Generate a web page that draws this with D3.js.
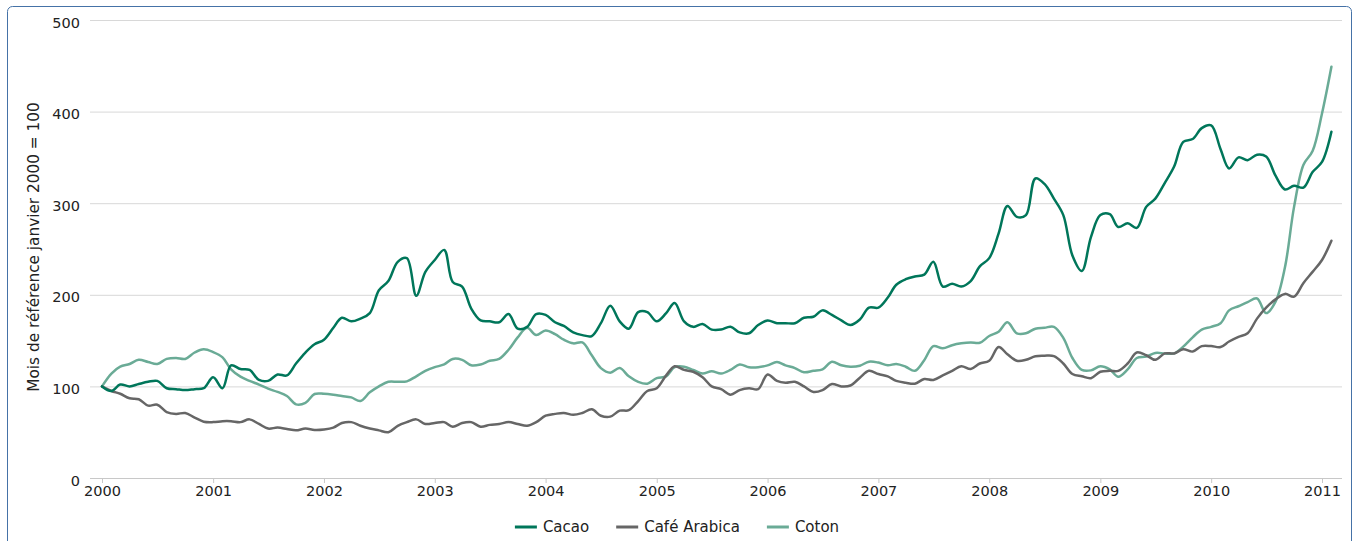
<!DOCTYPE html>
<html><head><meta charset="utf-8">
<script src="https://cdn.jsdelivr.net/npm/d3@7"></script>
<style>
html,body{margin:0;padding:0;background:#fff;}
svg{display:block;font-family:"DejaVu Sans",sans-serif;}
</style></head>
<body>
<svg id="chart" width="1354" height="541"></svg>
<script>
const seriesNames = ["Cacao", "Café Arabica", "Coton"];
const seriesColors = ["#00765A", "#666666", "#6AAB96"];
const startMonth = "2000-01";
const yTicks = [0, 100, 200, 300, 400, 500];
const xTickYears = [2000,2001,2002,2003,2004,2005,2006,2007,2008,2009,2010,2011];
const yTitle = "Mois de référence janvier 2000 = 100";

const cacao = [100,95,102,100,102.6,105,106,98,97,96,97,98,110,98,123,119,118,107,106,113,112,125,137,146,
151,164,175,171,174,180,205,215,236,240,199,225,238,249,214,209,185,172,171,170,179,163,165,179,178,170,
166,159,156,155,169,188,171,163,181,181,171,180,191,171,165,168,162,162,165,159,158,167,172,169,169,169,
175,176,183,178,172,167,173,186,186,197,211,217,220,222,236,209,212,209,215,231,240,267,297,285,287,327,
321,305,287,243,226,263,287,288,274,278,273,296,305,322,340,367,370,382,385,359,338,350,347,353,351,330,
315,319,317,334,345,378];
const cafe = [100,95,92,87,86,79,80,72,70,71,66,61.5,61,62,62,61,64,59,54,55,53.5,52,54,52.5,
53,55,60,61,57,54,52,50,57,61,64,59,60,61,56,60,61,56,58,59,61,59,57,61,68,70,
71,69,71,75,68,67,73.5,74,84,95,98,112,122,118,116,110,100,97,91,96,98,97,113,106,104,105,
100,94,96,102.6,100,101,109.5,117,113.5,111,106,104,103,108,107,112,117,122,119,125,128,143,135,128,129,133,
133.5,133,125,113.5,111,109,116,117,117,125,137,134,129,136,136,140.5,138,144,144,143,149,154,158,174,186,195,
201,198,213,225,238,259];
const coton = [100,114,121.5,124.5,129,126.6,124.5,130,131,130,137,140.5,137.5,131.7,118.6,110.6,106,102,97.5,94,89.5,80.4,82,91.7,
92,91,89.5,88,84,93.5,100,105,105,105.5,111,117,121,124,130,129,123,124,128,130,140,153.5,164,156,161,157,
151,147,148,134,120,115,120,111,105,103,109,111,121,121.5,118,114,116.5,114,118,124,121,121,123,126.6,123,120,
115.4,117,118.6,127,123,121.5,122.6,127,126,123,124.5,121.5,117,128.6,144,141.6,145,147,148,147.6,155,159.7,170,158,158,163,
164,165,153,131,118,117.5,122,118.6,110.6,118.6,131,132.5,136.5,136,136,143.4,153.6,162,165,169,183,187.5,192,196,180,192.5,
230,296,342,357,398,449];
const seriesValues = [cacao, cafe, coton];

const svg = d3.select("#chart");
const W = 1354, H = 541;
const plotLeft = 90, plotRight = 1342, plotTop = 20, plotBottom = 478;

// border
svg.append("rect").attr("x",7.5).attr("y",6.5).attr("width",1344).attr("height",545)
  .attr("rx",5).attr("ry",5).attr("fill","none").attr("stroke","#4572A7").attr("stroke-width",1);

const parseM = d3.timeParse("%Y-%m");
const months = d3.timeMonth.range(parseM(startMonth), d3.timeMonth.offset(parseM(startMonth), cacao.length));

const x = d3.scaleTime()
  .domain([new Date(2000,0,1), new Date(2011,0,1)])
  .range([102, 1322]);
const y = d3.scaleLinear().domain([0,500]).range([plotBottom, plotTop]);

// gridlines
const yAxis = d3.axisLeft(y).tickValues(yTicks).tickSize(-(plotRight-plotLeft)).tickFormat(d3.format("d")).tickPadding(10);
const gy = svg.append("g").attr("transform",`translate(${plotLeft},0)`).call(yAxis);
gy.select(".domain").remove();
gy.selectAll(".tick line").attr("stroke","#D8D8D8").attr("stroke-width",1);
gy.selectAll(".tick text").attr("font-size","14.5px").attr("fill","#222").attr("font-family","DejaVu Sans")
  .attr("y",2.5);

// x axis
const xAxis = d3.axisBottom(x).tickValues(xTickYears.map(yr=>new Date(yr,0,1)))
  .tickFormat(d3.timeFormat("%Y")).tickSize(5).tickSizeOuter(0).tickPadding(3);
const gx = svg.append("g").attr("transform",`translate(0,${plotBottom})`).call(xAxis);
gx.select(".domain").attr("d",`M${plotLeft},0.5H${plotRight}`).attr("stroke","#C8C8C8");
gx.selectAll(".tick line").attr("stroke","#C8C8C8");
gx.selectAll(".tick text").attr("font-size","14.5px").attr("fill","#222").attr("font-family","DejaVu Sans");

// y title
svg.append("text").attr("transform",`translate(38.5,247) rotate(-90)`)
  .attr("text-anchor","middle").attr("font-size","15.3px").attr("fill","#222").text(yTitle);

// lines
const line = d3.line().x((d,i)=>x(months[i])).y(d=>y(d)).curve(d3.curveCatmullRom.alpha(0.5));
const plot = svg.append("g");
[2,1,0].forEach(k=>{
  plot.append("path").datum(seriesValues[k]).attr("d",line)
    .attr("fill","none").attr("stroke",seriesColors[k]).attr("stroke-width",2.5)
    .attr("stroke-linejoin","round").attr("stroke-linecap","round");
});

// legend
const lg = svg.append("g");
let cx = 0;
seriesNames.forEach((n,k)=>{
  const g = lg.append("g");
  g.append("line").attr("x1",0).attr("x2",22).attr("y1",0).attr("y2",0)
    .attr("stroke",seriesColors[k]).attr("stroke-width",3);
  const t = g.append("text").attr("x",28).attr("y",5).attr("font-size","15px").attr("fill","#222").text(n);
  const w = 28 + t.node().getComputedTextLength();
  g.attr("transform",`translate(${cx},0)`);
  cx += w + 27;
});
const total = cx - 27;
lg.attr("transform",`translate(${(W-total)/2},527)`);
</script>
</body></html>
